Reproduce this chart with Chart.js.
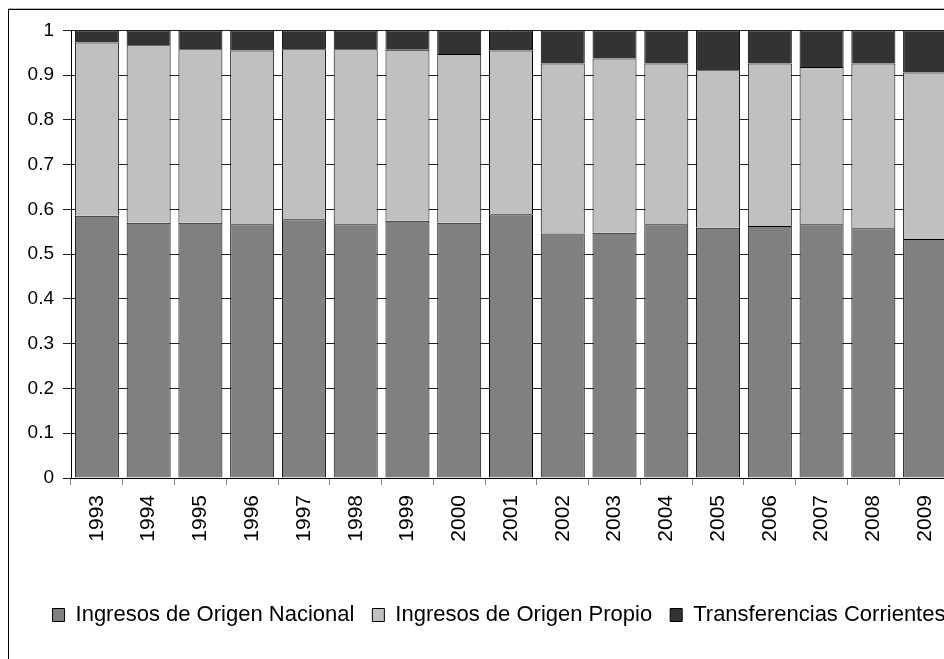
<!DOCTYPE html>
<html>
<head>
<meta charset="utf-8">
<script src="https://cdn.jsdelivr.net/npm/chart.js@4/dist/chart.umd.min.js"></script>
<style>
  html, body { margin: 0; padding: 0; background: #fff; overflow: hidden; }
  #frame {
    position: absolute; left: 8px; top: 9px;
    width: 975px; height: 660px;
    border: 1px solid #000;
    box-shadow: 0 -1px 0 #bbb;
  }
  canvas { display: block; }
</style>
</head>
<body>
<div id="frame"><canvas id="chart" width="975" height="650"></canvas></div>
<script>
// years on the x axis
const years = ["1993", "1994", "1995", "1996", "1997", "1998", "1999", "2000", "2001",
  "2002", "2003", "2004", "2005", "2006", "2007", "2008", "2009"];

// shares of total income
const nacional = [0.586, 0.570, 0.570, 0.567, 0.578, 0.567, 0.575, 0.570, 0.589,
  0.546, 0.548, 0.567, 0.559, 0.563, 0.567, 0.558, 0.534];
const propio = [0.387, 0.397, 0.388, 0.388, 0.380, 0.391, 0.382, 0.377, 0.366,
  0.380, 0.389, 0.359, 0.352, 0.363, 0.351, 0.368, 0.372];
const transferencias = [0.027, 0.033, 0.042, 0.045, 0.042, 0.042, 0.043, 0.053, 0.045,
  0.074, 0.063, 0.074, 0.089, 0.074, 0.082, 0.074, 0.094];

const seriesNames = ["Ingresos de Origen Nacional", "Ingresos de Origen Propio", "Transferencias Corrientes"];

const FONT = "'Liberation Sans', Arial, sans-serif";

const bar = (label, data, color) => ({
  label: label,
  data: data,
  backgroundColor: color,
  borderColor: "#000",
  borderWidth: 1,
  barPercentage: 0.85,
  categoryPercentage: 1.0,
});

// the legend in the original sits a bit right of the plot's centre
const legendShift = {
  id: "legendShift",
  afterLayout(chart) {
    chart.legend.left += 19;
    chart.legend.right += 19;
  },
};

const ctx = document.getElementById("chart").getContext("2d");
new Chart(ctx, {
  type: "bar",
  data: {
    labels: years,
    datasets: [
      bar(seriesNames[0], nacional, "#808080"),
      bar(seriesNames[1], propio, "#c0c0c0"),
      bar(seriesNames[2], transferencias, "#333333"),
    ],
  },
  plugins: [legendShift],
  options: {
    responsive: false,
    animation: false,
    layout: { padding: { left: 0, top: 18, right: 33, bottom: 24 } },
    plugins: {
      tooltip: { enabled: false },
      legend: {
        position: "bottom",
        labels: {
          color: "#000",
          font: { family: FONT, size: 22 },
          boxWidth: 12,
          boxHeight: 13,
          padding: 18,
        },
      },
    },
    scales: {
      x: {
        stacked: true,
        grid: {
          offset: true,
          drawOnChartArea: false,
          drawTicks: true,
          tickLength: 7,
          color: "#808080",
        },
        border: { color: "#000", width: 1 },
        ticks: {
          color: "#000",
          font: { family: FONT, size: 21 },
          minRotation: 90,
          maxRotation: 90,
          padding: 10,
          autoSkip: false,
        },
        afterFit: (scale) => { scale.height = 108; },
      },
      y: {
        stacked: true,
        min: 0,
        max: 1,
        grid: { color: "#222", tickLength: 8 },
        border: { color: "#000", width: 1 },
        ticks: {
          stepSize: 0.1,
          color: "#000",
          font: { family: FONT, size: 19 },
          padding: 9,
          callback: (v) => String(+v.toFixed(1)),
        },
        afterFit: (scale) => { scale.width = 62; },
      },
    },
  },
});
</script>
</body>
</html>
